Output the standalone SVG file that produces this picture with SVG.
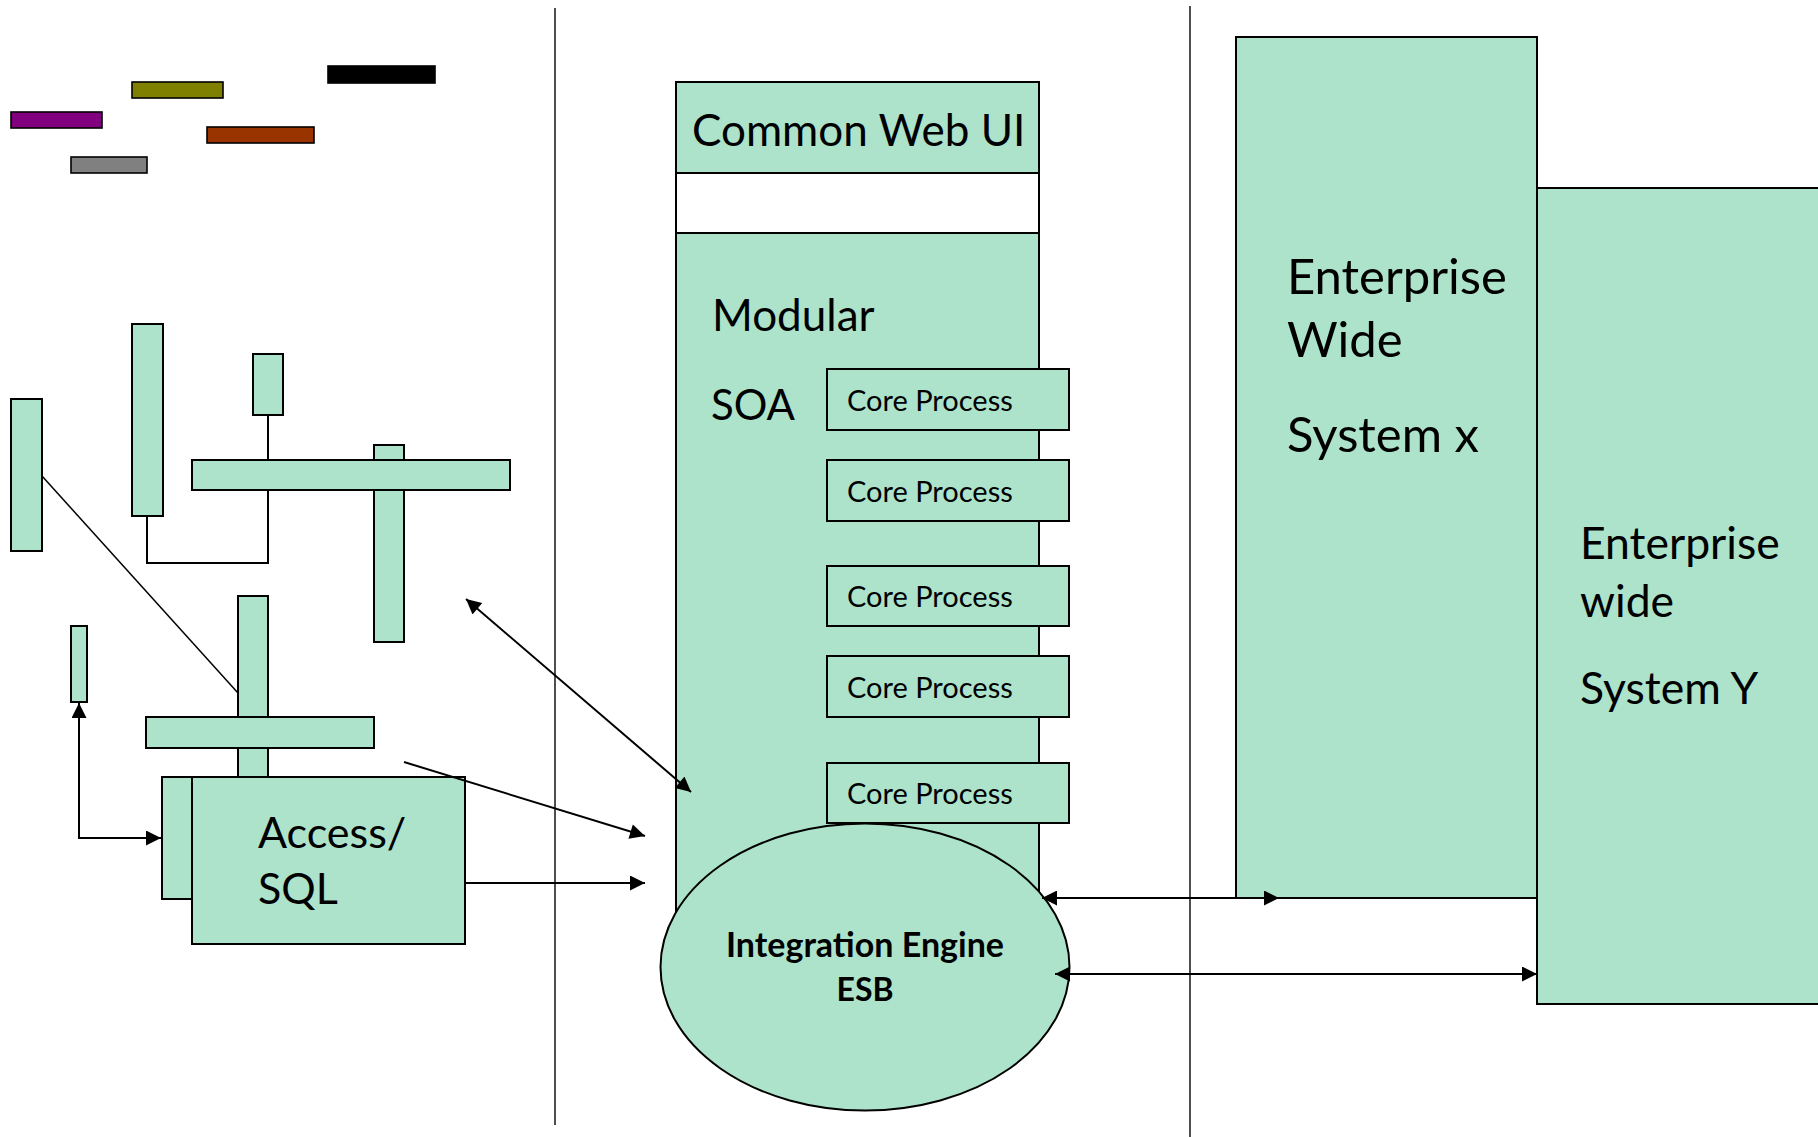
<svg xmlns="http://www.w3.org/2000/svg" width="1818" height="1137" viewBox="0 0 1818 1137">
<style>
.n{fill:#ace3ca;stroke:#000;stroke-width:2}
.t{font-family:Lato,"Liberation Sans",sans-serif;fill:#000}
.b{font-weight:bold}
.c{fill:none;stroke:#000;stroke-width:2}
.cl{fill:none;stroke:#000;stroke-width:1.5}
.dv{fill:none;stroke:#222;stroke-width:1.6}
.cb{stroke:#000;stroke-width:1.6}
</style>
<defs>
<marker id="ah" viewBox="0 0 10 10" refX="10" refY="5" markerWidth="16" markerHeight="15" markerUnits="userSpaceOnUse" orient="auto-start-reverse">
<path d="M0,0 L10,5 L0,10 z" fill="#000"/>
</marker>
</defs>
<rect width="1818" height="1137" fill="#fff"/>

<g id="dividers">
<line class="dv" x1="555" y1="8" x2="555" y2="1125"/>
<line class="dv" x1="1190" y1="6" x2="1190" y2="1137"/>
</g>

<g id="legend-bars">
<rect class="cb" x="328" y="66" width="107" height="17" fill="#000"/>
<rect class="cb" x="132" y="82" width="91" height="16" fill="#808000"/>
<rect class="cb" x="11" y="112" width="91" height="16" fill="#800080"/>
<rect class="cb" x="207" y="127" width="107" height="16" fill="#993300"/>
<rect class="cb" x="71" y="157" width="76" height="16" fill="#808080"/>
</g>

<g id="left-lines">
<polyline class="c" points="268,415 268,563 147,563 147,516"/>
<line class="cl" x1="42" y1="476" x2="238" y2="693"/>
</g>

<g id="block-left-tall"><rect class="n" x="11" y="399" width="31" height="152"/></g>
<g id="block-tall-2"><rect class="n" x="132" y="324" width="31" height="192"/></g>
<g id="block-small-top"><rect class="n" x="253" y="354" width="30" height="61"/></g>
<g id="block-vert-right"><rect class="n" x="374" y="445" width="30" height="197"/></g>
<g id="block-hbar-upper"><rect class="n" x="192" y="460" width="318" height="30"/></g>
<g id="block-small-lower"><rect class="n" x="71" y="626" width="16" height="76"/></g>
<g id="block-vert-lower"><rect class="n" x="238" y="596" width="30" height="181"/></g>
<g id="block-hbar-lower"><rect class="n" x="146" y="717" width="228" height="31"/></g>

<g id="access-sql">
<rect class="n" x="162" y="777" width="60" height="122"/>
<rect class="n" x="192" y="777" width="273" height="167"/>
<text class="t" x="258" y="848" font-size="43">Access/</text>
<text class="t" x="258" y="904" font-size="43">SQL</text>
</g>

<g id="common-web-ui">
<rect class="n" x="676" y="82" width="363" height="91"/>
<text class="t" x="692" y="146" font-size="44">Common Web UI</text>
</g>
<g id="gap"><rect x="676" y="173" width="363" height="60" fill="#fff" stroke="#000" stroke-width="2"/></g>
<g id="modular-soa">
<rect class="n" x="676" y="233" width="363" height="720"/>
<text class="t" x="712" y="331" font-size="44">Modular</text>
<text class="t" x="711" y="420" font-size="42">SOA</text>
</g>

<g id="core-1"><rect class="n" x="827" y="369" width="242" height="61"/><text class="t" x="847" y="411" font-size="29">Core Process</text></g>
<g id="core-2"><rect class="n" x="827" y="460" width="242" height="61"/><text class="t" x="847" y="502" font-size="29">Core Process</text></g>
<g id="core-3"><rect class="n" x="827" y="566" width="242" height="60"/><text class="t" x="847" y="607" font-size="29">Core Process</text></g>
<g id="core-4"><rect class="n" x="827" y="656" width="242" height="61"/><text class="t" x="847" y="698" font-size="29">Core Process</text></g>
<g id="core-5"><rect class="n" x="827" y="763" width="242" height="60"/><text class="t" x="847" y="804" font-size="29">Core Process</text></g>

<g id="esb">
<ellipse class="n" cx="865" cy="967" rx="204.5" ry="143.5"/>
<text class="t b" x="865" y="957" font-size="34" text-anchor="middle">Integration Engine</text>
<text class="t b" x="865" y="1001" font-size="32" text-anchor="middle">ESB</text>
</g>

<g id="enterprise-x">
<rect class="n" x="1236" y="37" width="301" height="861"/>
<text class="t" x="1287" y="294" font-size="49">Enterprise</text>
<text class="t" x="1287" y="357" font-size="49">Wide</text>
<text class="t" x="1287" y="452" font-size="49">System x</text>
</g>

<g id="enterprise-y">
<rect class="n" x="1537" y="188" width="290" height="816"/>
<text class="t" x="1580" y="559" font-size="44.5">Enterprise</text>
<text class="t" x="1580" y="617" font-size="44.5">wide</text>
<text class="t" x="1580" y="704" font-size="44.5">System Y</text>
</g>

<g id="connectors">
<path class="c" d="M79,703 L79,838 L161,838" marker-start="url(#ah)" marker-end="url(#ah)"/>
<line class="c" x1="466" y1="599" x2="691" y2="792" marker-start="url(#ah)" marker-end="url(#ah)"/>
<line class="c" x1="404" y1="762" x2="645" y2="836" marker-end="url(#ah)"/>
<line class="c" x1="465" y1="883" x2="645" y2="883" marker-end="url(#ah)"/>
<line class="c" x1="1042" y1="898" x2="1279" y2="898" marker-start="url(#ah)" marker-end="url(#ah)"/>
<line class="c" x1="1055" y1="974" x2="1537" y2="974" marker-start="url(#ah)" marker-end="url(#ah)"/>
</g>
</svg>
